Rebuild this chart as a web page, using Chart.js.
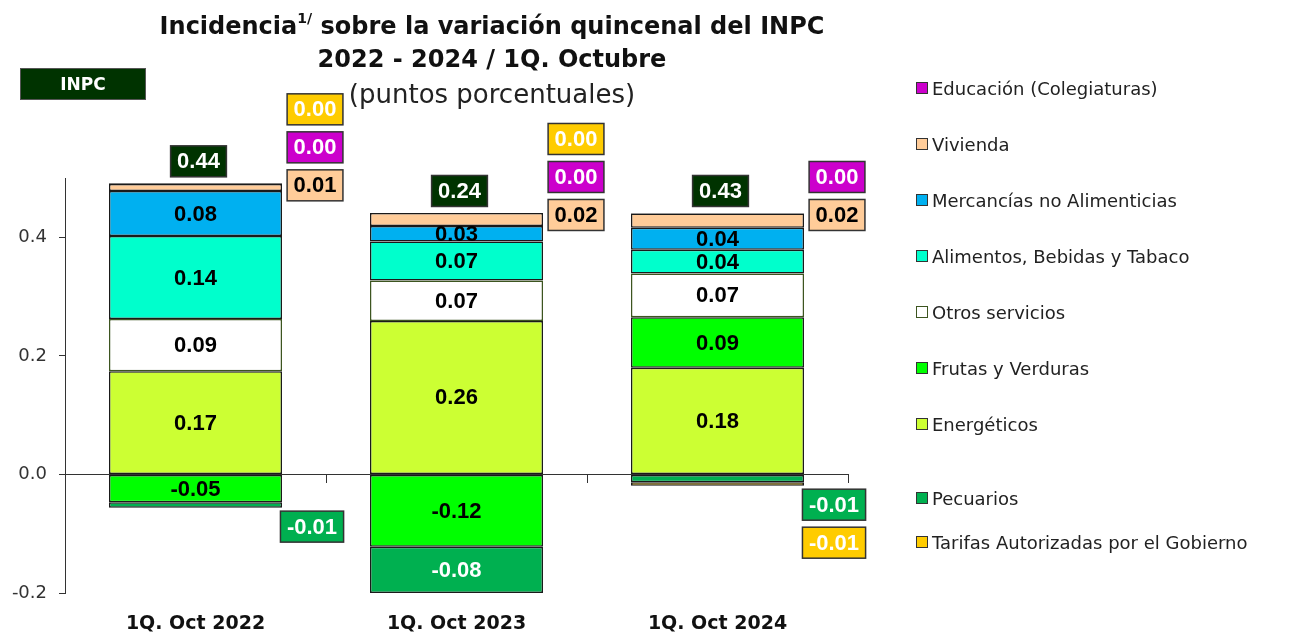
<!DOCTYPE html>
<html>
<head>
<meta charset="utf-8">
<script src="https://cdn.jsdelivr.net/npm/chart.js@4"></script>
<style>
  body { margin: 0; background: #fff; font-family: "DejaVu Sans", sans-serif; }
  #wrap { position: relative; width: 1303px; height: 639px; overflow: hidden; }
  canvas { position: absolute; left: 0; top: 0; }
  .t { position: absolute; left: 0; width: 984px; text-align: center; color: #111; white-space: nowrap; }
  .t1 { top: 12px; font: bold 24px "DejaVu Sans", sans-serif; }
  .t1 sup { font-size: 14px; position: relative; top: -2px; }
  .t2 { top: 45px; font: bold 24px "DejaVu Sans", sans-serif; }
  .t3 { top: 79px; font: 26px "DejaVu Sans", sans-serif; color: #222; }
  #inpc { position: absolute; left: 20px; top: 68px; width: 124px; height: 30px; background: #003300;
          border: 1px solid #555; color: #fff; font: bold 17px "DejaVu Sans", sans-serif;
          text-align: center; line-height: 30px; }
  #legend { position: absolute; left: 916px; top: 0; }
  .li { position: absolute; left: 0; white-space: nowrap; font: 18px "DejaVu Sans", sans-serif; color: #222; }
  .li span.sw { display: inline-block; width: 10px; height: 10px; border: 1px solid #333; margin-right: 4px; vertical-align: 1px; }
</style>
</head>
<body>
<div id="wrap">
  <canvas id="chart" width="1303" height="639"></canvas>
  <div class="t t1">Incidencia<sup>1/</sup> sobre la variación quincenal del INPC</div>
  <div class="t t2">2022 - 2024 / 1Q. Octubre</div>
  <div class="t t3">(puntos porcentuales)</div>
  <div id="inpc">INPC</div>
  <div id="legend"></div>
</div>
<script>
const categories = ['1Q. Oct 2022', '1Q. Oct 2023', '1Q. Oct 2024'];

const energeticos    = [0.174, 0.259, 0.180];
const frutasVerduras = [-0.047, -0.122, 0.085];
const otrosServicios = [0.088, 0.068, 0.074];
const alimentos      = [0.140, 0.066, 0.040];
const mercancias     = [0.076, 0.026, 0.037];
const vivienda       = [0.012, 0.022, 0.024];
const educacion      = [0.001, 0.000, 0.001];
const pecuarios      = [-0.009, -0.078, -0.013];
const tarifas        = [0.000, 0.000, -0.006];
const inpc           = [0.44, 0.24, 0.43];

const yTicks = [-0.2, 0, 0.2, 0.4];

// stacking order (bottom -> top for positives, top -> bottom for negatives)
const series = [
  { name: 'Energéticos', data: energeticos, color: '#CCFF33', border: '#1a1a1a', inText: '#000', boxText: '#000' },
  { name: 'Frutas y Verduras', data: frutasVerduras, color: '#00FF00', border: '#1a1a1a', inText: '#000', boxText: '#000' },
  { name: 'Otros servicios', data: otrosServicios, color: '#FFFFFF', border: '#3d5520', inText: '#000', boxText: '#000' },
  { name: 'Alimentos, Bebidas y Tabaco', data: alimentos, color: '#00FFCC', border: '#1a1a1a', inText: '#000', boxText: '#000' },
  { name: 'Mercancías no Alimenticias', data: mercancias, color: '#00B0F0', border: '#1a1a1a', inText: '#000', boxText: '#000' },
  { name: 'Vivienda', data: vivienda, color: '#FFCC99', border: '#1a1a1a', inText: '#000', boxText: '#000' },
  { name: 'Educación (Colegiaturas)', data: educacion, color: '#CC00CC', border: '#1a1a1a', inText: '#fff', boxText: '#fff' },
  { name: 'Pecuarios', data: pecuarios, color: '#00B050', border: '#1a1a1a', inText: '#fff', boxText: '#fff' },
  { name: 'Tarifas Autorizadas por el Gobierno', data: tarifas, color: '#FFCC00', border: '#1a1a1a', inText: '#fff', boxText: '#fff' }
];

// legend (top to bottom)
const legendOrder = [6, 5, 4, 3, 2, 1, 0, 7, 8];
const legendY = [89, 145, 201, 257, 313, 369, 425, 499, 543];
const legendEl = document.getElementById('legend');
legendOrder.forEach((idx, k) => {
  const s = series[idx];
  const d = document.createElement('div');
  d.className = 'li';
  d.style.top = (legendY[k] - 11) + 'px';
  d.innerHTML = '<span class="sw" style="background:' + s.color + ';border-color:' +
    (idx === 2 ? '#3d5520' : '#333') + '"></span>' + s.name;
  legendEl.appendChild(d);
});

const labelFont = 'bold 22px "Liberation Sans", sans-serif';

function drawBox(c, txt, cx, cy, bg, fg) {
  const w = c.measureText(txt).width + 13;
  const h = 31;
  c.fillStyle = bg;
  c.fillRect(cx - w / 2, cy - h / 2, w, h);
  c.strokeStyle = '#333';
  c.lineWidth = 1.5;
  c.strokeRect(cx - w / 2, cy - h / 2, w, h);
  c.fillStyle = fg;
  c.fillText(txt, cx, cy + 1);
}

const labelPlugin = {
  id: 'segLabels',
  afterDatasetsDraw(chart) {
    const c = chart.ctx;
    const yScale = chart.scales.y;
    c.save();
    c.font = labelFont;
    c.textAlign = 'center';
    c.textBaseline = 'middle';
    categories.forEach((cat, j) => {
      let pos = 0, neg = 0;
      series.forEach(s => { if (s.data[j] >= 0) pos += s.data[j]; else neg += s.data[j]; });
      const top = yScale.getPixelForValue(pos);
      const bottom = yScale.getPixelForValue(neg);
      let up = 0, down = 0, barX = 0;
      series.forEach((s, i) => {
        const el = chart.getDatasetMeta(i).data[j];
        const v = s.data[j];
        const txt = v.toFixed(2);
        barX = el.x;
        const right = el.x + el.width / 2;
        if (Math.abs(v) >= 0.025) {
          c.fillStyle = s.inText;
          c.fillText(txt, el.x, (el.y + el.base) / 2 + 1);
        } else if (v >= 0) {
          drawBox(c, txt, right + 33, top + 2 - 38 * up, s.color, s.boxText);
          up++;
        } else {
          drawBox(c, txt, right + 30, bottom + 19 + 38 * down, s.color, s.boxText);
          down++;
        }
      });
      drawBox(c, inpc[j].toFixed(2), barX + 3, top - 22, '#003300', '#fff');
    });
    c.restore();
  }
};

const ctx = document.getElementById('chart').getContext('2d');
new Chart(ctx, {
  type: 'bar',
  data: {
    labels: categories,
    datasets: series.map(s => ({
      label: s.name,
      data: s.data,
      backgroundColor: s.color,
      borderColor: s.border,
      borderWidth: 1.5,
      borderSkipped: false,
      xAxisID: 'x',
      yAxisID: 'y',
      categoryPercentage: 1,
      barPercentage: 0.663
    }))
  },
  options: {
    responsive: false,
    animation: false,
    layout: { padding: { top: 178, right: 455, left: 0, bottom: 0 } },
    plugins: { legend: { display: false }, tooltip: { enabled: false }, title: { display: false } },
    scales: {
      x: {
        type: 'category',
        position: { y: 0 },
        stacked: true,
        offset: true,
        grid: { offset: true, drawOnChartArea: false, tickLength: 8, color: '#333' },
        border: { color: '#333', width: 1 },
        ticks: { display: false }
      },
      x2: {
        type: 'category',
        labels: categories,
        position: 'bottom',
        offset: true,
        grid: { display: false, drawTicks: false },
        border: { display: false },
        ticks: { padding: 20, color: '#111', font: { family: 'DejaVu Sans', weight: 'bold', size: 19 } },
        afterFit: s => { s.height = 46; }
      },
      y: {
        stacked: true,
        min: -0.2,
        max: 0.5,
        afterBuildTicks: s => { s.ticks = yTicks.map(v => ({ value: v })); },
        grid: { drawOnChartArea: false, tickLength: 6, color: '#333' },
        border: { color: '#333', width: 1 },
        ticks: { padding: 12, color: '#333', font: { family: 'DejaVu Sans', size: 18 }, callback: v => v.toFixed(1) },
        afterFit: s => { s.width = 65; }
      }
    }
  },
  plugins: [labelPlugin]
});
</script>
</body>
</html>
